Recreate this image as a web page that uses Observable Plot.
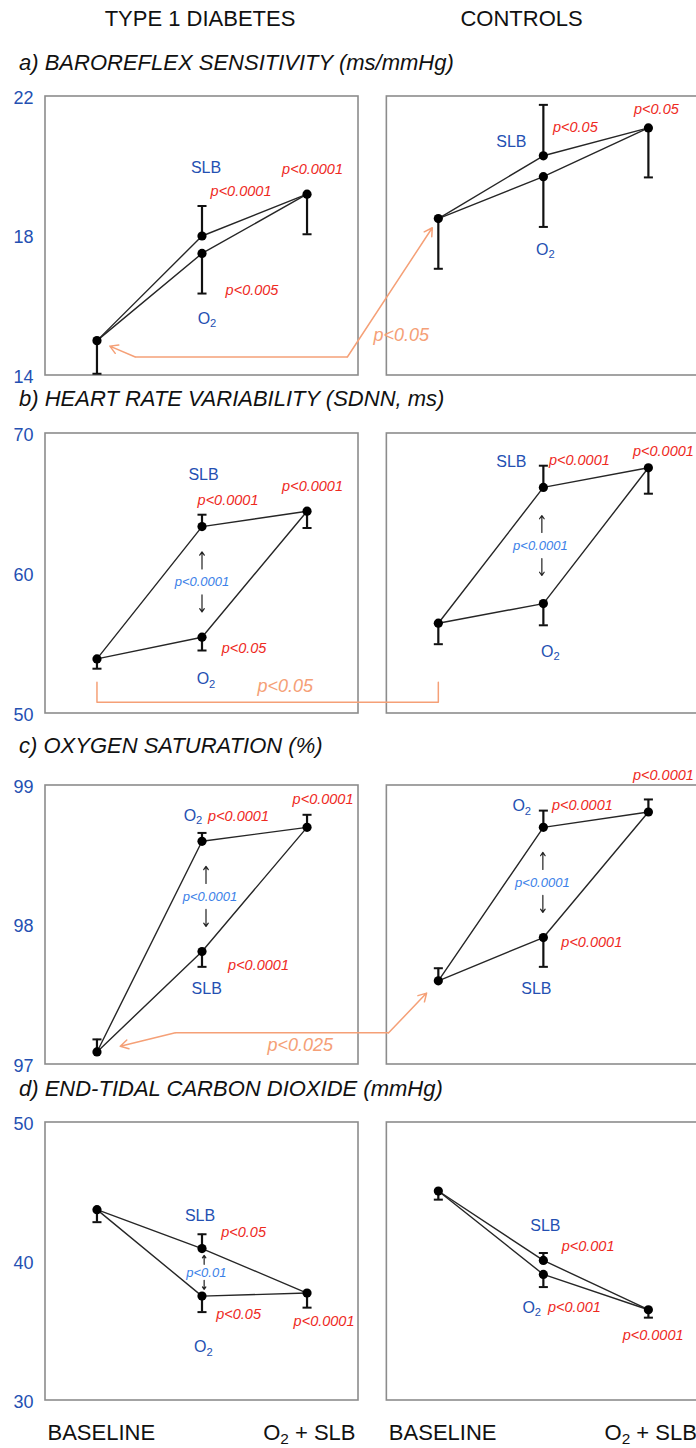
<!DOCTYPE html>
<html>
<head>
<meta charset="utf-8">
<script src="https://cdn.jsdelivr.net/npm/d3@7"></script>
<script src="https://cdn.jsdelivr.net/npm/@observablehq/plot@0.6"></script>
<style>
html,body{margin:0;padding:0;background:#fff;}
#page{position:relative;width:696px;height:1448px;overflow:hidden;font-family:"Liberation Sans",Arial,Helvetica,sans-serif;color:#111;}
.txt{position:absolute;white-space:nowrap;font-size:22px;line-height:22px;z-index:2;}
.hdr{transform:translateX(-50%);}
.sub{font-style:italic;}
</style>
</head>
<body>
<div id="page"></div>
<script>
// ---------- data ----------
const groups = ["TYPE 1 DIABETES", "CONTROLS"];
const conditions = ["BASELINE", "SLB", "O\u2082", "O\u2082 + SLB"];
const seriesNames = ["SLB", "O\u2082"];

// a) baroreflex sensitivity — order: baseline, SLB, O2, O2+SLB ; SE signed (+ up, - down)
const brsTitle = "a) BAROREFLEX SENSITIVITY (ms/mmHg)";
const brsTicks = [14, 18, 22];
const brsT1D = [15.0, 18.0, 17.5, 19.2];
const brsT1DSE = [-0.95, 0.86, -1.15, -1.15];
const brsCtl = [18.5, 20.3, 19.7, 21.1];
const brsCtlSE = [-1.44, 1.46, -1.44, -1.42];
const brsT1DP = ["", "p<0.0001", "p<0.005", "p<0.0001"];
const brsCtlP = ["", "p<0.05", "", "p<0.05"];
const brsPairP = ["", ""];
const brsGroupP = "p<0.05";

// b) heart rate variability
const hrvTitle = "b) HEART RATE VARIABILITY (SDNN, ms)";
const hrvTicks = [50, 60, 70];
const hrvT1D = [53.9, 63.35, 55.45, 64.45];
const hrvT1DSE = [-0.7, 0.85, -0.95, -1.2];
const hrvCtl = [56.45, 66.15, 57.85, 67.55];
const hrvCtlSE = [-1.5, 1.55, -1.55, -1.85];
const hrvT1DP = ["", "p<0.0001", "p<0.05", "p<0.0001"];
const hrvCtlP = ["", "p<0.0001", "", "p<0.0001"];
const hrvPairP = ["p<0.0001", "p<0.0001"];
const hrvGroupP = "p<0.05";

// c) oxygen saturation
const satTitle = "c) OXYGEN SATURATION (%)";
const satTicks = [97, 98, 99];
const satT1D = [97.09, 97.81, 98.60, 98.70];
const satT1DSE = [0.09, -0.11, 0.06, 0.09];
const satCtl = [97.60, 97.91, 98.70, 98.81];
const satCtlSE = [0.09, -0.21, 0.12, 0.09];
const satT1DP = ["", "p<0.0001", "p<0.0001", "p<0.0001"];
const satCtlP = ["", "p<0.0001", "p<0.0001", "p<0.0001"];
const satPairP = ["p<0.0001", "p<0.0001"];
const satGroupP = "p<0.025";

// d) end-tidal CO2
const co2Title = "d) END-TIDAL CARBON DIOXIDE (mmHg)";
const co2Ticks = [30, 40, 50];
const co2T1D = [43.73, 40.93, 37.51, 37.73];
const co2T1DSE = [-0.9, 1.03, -1.15, -1.05];
const co2Ctl = [45.07, 40.08, 39.07, 36.53];
const co2CtlSE = [-0.62, 0.53, -0.91, -0.57];
const co2T1DP = ["", "p<0.05", "p<0.05", "p<0.0001"];
const co2CtlP = ["", "p<0.001", "p<0.001", "p<0.0001"];
const co2PairP = ["p<0.01", ""];
const co2GroupP = "";

const rows = [
  {id: "a", title: brsTitle, ticks: brsTicks, groupP: brsGroupP, series: [
    {mean: brsT1D, se: brsT1DSE, p: brsT1DP, pair: brsPairP[0]},
    {mean: brsCtl, se: brsCtlSE, p: brsCtlP, pair: brsPairP[1]}]},
  {id: "b", title: hrvTitle, ticks: hrvTicks, groupP: hrvGroupP, series: [
    {mean: hrvT1D, se: hrvT1DSE, p: hrvT1DP, pair: hrvPairP[0]},
    {mean: hrvCtl, se: hrvCtlSE, p: hrvCtlP, pair: hrvPairP[1]}]},
  {id: "c", title: satTitle, ticks: satTicks, groupP: satGroupP, series: [
    {mean: satT1D, se: satT1DSE, p: satT1DP, pair: satPairP[0]},
    {mean: satCtl, se: satCtlSE, p: satCtlP, pair: satPairP[1]}]},
  {id: "d", title: co2Title, ticks: co2Ticks, groupP: co2GroupP, series: [
    {mean: co2T1D, se: co2T1DSE, p: co2T1DP, pair: co2PairP[0]},
    {mean: co2Ctl, se: co2CtlSE, p: co2CtlP, pair: co2PairP[1]}]}
];

// ---------- layout / style ----------
const W = 696, ML = 45, PAD = 0.49, GOFF = 3.25, XMAX = 5.708, CAP = 0.043;
const BLUE = "#2450b2", RED = "#ee2a1e", PAIRBLUE = "#3b7fe8", ORANGE = "#f5a077",
      FRAME = "#8c8c8c", LINE = "#262626", BAR = "#111";
const slot = [0, 1, 1, 2];
const xOf = (g, c) => g * GOFF + slot[c];

const layout = {
  a: {frameTop: 96, frameH: 279, titleBase: 71, arrowPx: [13, 30],
      labels: [
        {SLBname: [4, -68], SLBp: [39, -45], O2name: [5, 65], O2p: [50, 37], Rp: [5.5, -25], pair: 0},
        {SLBname: [-32, -14], SLBp: [32, -28.5], O2name: [2, 73], O2p: [0, 0], Rp: [8, -19], pair: 0}],
      conn: {type: "arrow", level: 14.53, cornerT1D: 0.365, cornerCtl: 2.384, insetT1D: 14, insetCtl: 11, label: [2.898, 15.15]}},
  b: {frameTop: 433, frameH: 280, titleBase: 407, arrowPx: [13, 30],
      labels: [
        {SLBname: [1.5, -52], SLBp: [26, -26], O2name: [4, 42], O2p: [42, 11], Rp: [5.5, -25], pair: 0},
        {SLBname: [-32, -26], SLBp: [36, -27], O2name: [7, 48], O2p: [0, 0], Rp: [15, -16], pair: -3}],
      conn: {type: "bracket", top: 52.23, bottom: 50.81, label: [1.793, 51.93]}},
  c: {frameTop: 785, frameH: 279, titleBase: 754, arrowPx: [13, 30],
      labels: [
        {O2name: [-9, -25.5], O2p: [36.5, -25], SLBname: [4.7, 37], SLBp: [56.5, 14], Rp: [16, -28], pair: 8},
        {O2name: [-21.6, -21], O2p: [39, -22], SLBname: [-7, 51], SLBp: [48.4, 4.4], Rp: [15, -37], pair: -1}],
      conn: {type: "arrow", level: 97.227, cornerT1D: 0.746, cornerCtl: 2.777, insetT1D: 24, insetCtl: 17, label: [1.936, 97.136]}},
  d: {frameTop: 1122, frameH: 278, titleBase: 1097, arrowPx: [8, 17],
      labels: [
        {SLBname: [-2, -33], SLBp: [41.6, -15.8], O2name: [1.3, 51], O2p: [36.6, 18.6], Rp: [17, 28], pair: 4.3},
        {SLBname: [2, -35], SLBp: [44.7, -14], O2name: [-11.6, 33], O2p: [31, 33], Rp: [4.7, 26], pair: 0}],
      conn: null}
};

const NAME_STYLE = {fill: BLUE, fontSize: 16};
const P_STYLE = {fill: RED, fontSize: 14.5, fontStyle: "italic"};

// ---------- helpers ----------
const page = document.getElementById("page");
function addText(text, cls, left, baseline) {
  const d = document.createElement("div");
  d.className = "txt " + cls;
  d.textContent = text;
  d.style.left = left + "px";
  d.style.top = (baseline - 18.6) + "px";
  page.appendChild(d);
}
function subscriptify(svg) {
  const ns = "http://www.w3.org/2000/svg";
  svg.querySelectorAll("text").forEach(t => {
    const targets = t.children.length ? Array.from(t.querySelectorAll("tspan")) : [t];
    targets.forEach(el => {
      const s = el.textContent;
      const i = s.indexOf("\u2082");
      if (i < 0) return;
      el.textContent = "";
      el.appendChild(document.createTextNode(s.slice(0, i)));
      const sub = document.createElementNS(ns, "tspan");
      sub.setAttribute("dy", "0.3em");
      sub.setAttribute("font-size", "70%");
      sub.textContent = "2";
      el.appendChild(sub);
      const rest = s.slice(i + 1);
      if (rest) {
        const r = document.createElementNS(ns, "tspan");
        r.setAttribute("dy", "-0.21em");
        r.textContent = rest;
        el.appendChild(r);
      }
    });
  });
}

function rowPlot(row, lay, isLast) {
  const mt = 30, mb = isLast ? 48 : 14;
  const height = mt + lay.frameH + mb;
  const [lo, hi] = d3.extent(row.ticks);
  const unit = (hi - lo) / lay.frameH; // data units per pixel
  const pts = [], lines = [];
  row.series.forEach((s, g) => {
    s.mean.forEach((v, c) => pts.push({g, c, x: xOf(g, c), y: v, e: v + s.se[c]}));
    [[0, 1, 3], [0, 2, 3]].forEach((path, k) =>
      path.forEach(c => lines.push({z: g * 2 + k, x: xOf(g, c), y: s.mean[c]})));
  });
  const marks = [];
  marks.push(Plot.rect(groups.map((name, g) => ({g})), {
    x1: d => d.g * GOFF - PAD, x2: d => d.g * GOFF + 2 + PAD, y1: () => lo, y2: () => hi,
    fill: "none", stroke: FRAME, strokeWidth: 1.6}));
  marks.push(Plot.axisY(row.ticks, {tickSize: 0, tickPadding: 12, fontSize: 18, color: BLUE, dy: 1.5,
    label: null, tickFormat: d => String(d)}));

  if (lay.conn) {
    const C = lay.conn;
    const b0 = row.series[0].mean[0], b1 = row.series[1].mean[0];
    const ostyle = {stroke: ORANGE, strokeWidth: 1.5};
    if (C.type === "arrow") {
      marks.push(Plot.link([{x1: C.cornerT1D, x2: C.cornerCtl, y: C.level}], {x1: "x1", x2: "x2", y1: "y", y2: "y", ...ostyle}));
      marks.push(Plot.arrow([{x1: C.cornerCtl, y1: C.level, x2: xOf(1, 0), y2: b1}],
        {x1: "x1", y1: "y1", x2: "x2", y2: "y2", insetEnd: C.insetCtl, headLength: 9, ...ostyle}));
      marks.push(Plot.arrow([{x1: C.cornerT1D, y1: C.level, x2: xOf(0, 0), y2: b0}],
        {x1: "x1", y1: "y1", x2: "x2", y2: "y2", insetEnd: C.insetT1D, headLength: 9, ...ostyle}));
    } else {
      marks.push(Plot.line([
        {x: xOf(0, 0), y: C.top}, {x: xOf(0, 0), y: C.bottom},
        {x: xOf(1, 0), y: C.bottom}, {x: xOf(1, 0), y: C.top}],
        {x: "x", y: "y", strokeLinejoin: "round", ...ostyle}));
    }
    marks.push(Plot.text([row.groupP], {x: () => C.label[0], y: () => C.label[1], text: d => d,
      fill: ORANGE, fontSize: 18, fontStyle: "italic"}));
  }

  marks.push(Plot.line(lines, {x: "x", y: "y", z: "z", stroke: LINE, strokeWidth: 1.4}));
  marks.push(Plot.ruleX(pts, {x: "x", y1: "y", y2: "e", stroke: BAR, strokeWidth: 2.2}));
  marks.push(Plot.link(pts, {x1: d => d.x - CAP, x2: d => d.x + CAP, y1: "e", y2: "e", stroke: BAR, strokeWidth: 2}));
  marks.push(Plot.dot(pts, {x: "x", y: "y", r: 4.6, fill: "#000"}));

  row.series.forEach((s, g) => {
    const L = lay.labels[g];
    const add = (c, text, off, style) => marks.push(Plot.text([text], {
      x: () => xOf(g, c), y: () => s.mean[c], text: d => d, dx: off[0], dy: off[1], ...style}));
    add(1, seriesNames[0], L.SLBname, NAME_STYLE);
    add(2, seriesNames[1], L.O2name, NAME_STYLE);
    if (s.p[1]) add(1, s.p[1], L.SLBp, P_STYLE);
    if (s.p[2]) add(2, s.p[2], L.O2p, P_STYLE);
    if (s.p[3]) add(3, s.p[3], L.Rp, P_STYLE);
    if (s.pair) {
      const ym = (s.mean[1] + s.mean[2]) / 2;
      marks.push(Plot.text([s.pair], {x: () => xOf(g, 1), y: () => ym, text: d => d, dx: L.pair,
        fill: PAIRBLUE, fontSize: 13, fontStyle: "italic"}));
      const [a0, a1] = lay.arrowPx;
      const ax = xOf(g, 1) + L.pair * 0.5 / 105;
      marks.push(Plot.arrow([
        {x: ax, y1: ym + a0 * unit, y2: ym + a1 * unit},
        {x: ax, y1: ym - a0 * unit, y2: ym - a1 * unit}],
        {x1: "x", x2: "x", y1: "y1", y2: "y2", stroke: "#222", strokeWidth: 1.2, headLength: 5, headAngle: 70}));
    }
  });

  if (isLast) {
    groups.forEach((_, g) => {
      marks.push(Plot.text([conditions[0]], {x: () => xOf(g, 0) - PAD, y: () => lo, text: d => d,
        textAnchor: "start", dx: 2, dy: 32, fontSize: 22, fill: "#111"}));
      marks.push(Plot.text([conditions[3]], {x: () => xOf(g, 3) + PAD, y: () => lo, text: d => d,
        textAnchor: "end", dx: -3, dy: 32, fontSize: 22, fill: "#111"}));
    });
  }

  const svg = Plot.plot({
    width: W, height, marginLeft: ML, marginRight: 0, marginTop: mt, marginBottom: mb,
    style: {fontFamily: "'Liberation Sans', Arial, sans-serif", background: "transparent", overflow: "hidden"},
    x: {domain: [-PAD, XMAX], axis: null},
    y: {domain: [lo, hi]},
    marks
  });
  subscriptify(svg);
  svg.style.position = "absolute";
  svg.style.left = "0px";
  svg.style.top = (lay.frameTop - mt) + "px";
  return svg;
}

// ---------- render ----------
addText(groups[0], "hdr", 200, 26.7);
addText(groups[1], "hdr", 521.6, 26.7);
rows.forEach((row, i) => {
  const lay = layout[row.id];
  page.appendChild(rowPlot(row, lay, i === rows.length - 1));
  addText(row.title, "sub", 19, lay.titleBase);
});
</script>
</body>
</html>
